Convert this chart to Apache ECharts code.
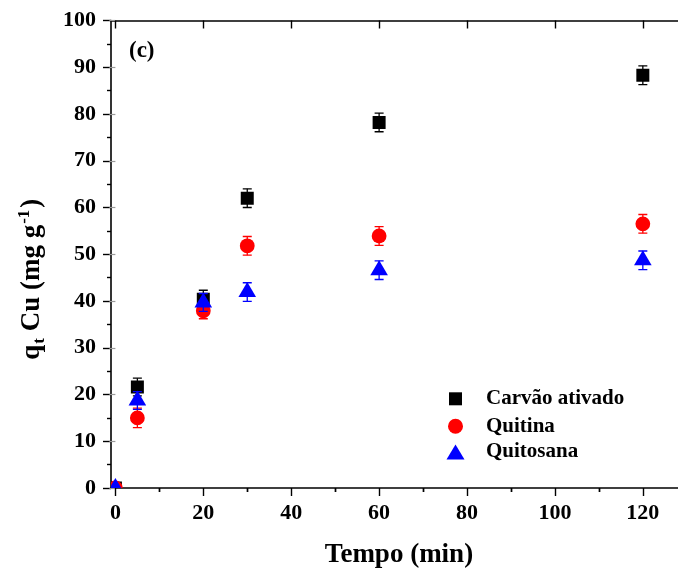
<!DOCTYPE html>
<html>
<head>
<meta charset="utf-8">
<script src="https://cdn.jsdelivr.net/npm/echarts@6/dist/echarts.min.js"></script>
<style>
  html, body { margin: 0; padding: 0; background: #fff; }
  #chart { width: 678px; height: 574px; }
</style>
</head>
<body>
<div id="chart"></div>
<script>
// Adsorption kinetics of Cu: uptake q_t vs contact time
const tempo = [0, 5, 20, 30, 60, 120];
const carvaoAtivado = [0, 21.6, 40.4, 62.0, 78.2, 88.3];
const carvaoErro    = [0, 1.9, 1.9, 2.0, 2.0, 2.0];
const quitina       = [0, 15.0, 37.9, 51.8, 53.9, 56.5];
const quitinaErro   = [0, 2.1, 1.7, 2.0, 2.0, 2.0];
const quitosana     = [0, 18.7, 39.7, 41.9, 46.6, 48.7];
const quitosanaErro = [0, 1.9, 1.9, 2.0, 2.0, 2.0];

const xMajorTicks = [0, 20, 40, 60, 80, 100, 120];
const xMinorTicks = [10, 30, 50, 70, 90, 110];

const FONT = '"Liberation Serif", "Times New Roman", serif';
const AXIS_COLOR = '#000';

function rows(vals, errs) {
  return tempo.map((t, i) => [t, vals[i], errs[i]]);
}

// Marker + vertical error bar for each point
function makeRenderer(shape, color) {
  return function (params, api) {
    const x = api.value(0), y = api.value(1), e = api.value(2);
    const p = api.coord([x, y]);
    const children = [];
    if (e > 0) {
      const top = api.coord([x, y + e]);
      const bot = api.coord([x, y - e]);
      const cap = 4.5;
      const ls = { stroke: color, lineWidth: 1.3 };
      children.push(
        { type: 'line', shape: { x1: p[0], y1: top[1], x2: p[0], y2: bot[1] }, style: ls },
        { type: 'line', shape: { x1: p[0] - cap, y1: top[1], x2: p[0] + cap, y2: top[1] }, style: ls },
        { type: 'line', shape: { x1: p[0] - cap, y1: bot[1], x2: p[0] + cap, y2: bot[1] }, style: ls }
      );
    }
    if (shape === 'rect') {
      const s = 13;
      children.push({ type: 'rect', shape: { x: p[0] - s / 2, y: p[1] - s / 2, width: s, height: s }, style: { fill: color } });
    } else if (shape === 'circle') {
      children.push({ type: 'circle', shape: { cx: p[0], cy: p[1], r: 7.4 }, style: { fill: color } });
    } else {
      const w = 17.6, h = 15;
      children.push({
        type: 'polygon',
        shape: { points: [[p[0], p[1] - h * 2 / 3], [p[0] + w / 2, p[1] + h / 3], [p[0] - w / 2, p[1] + h / 3]] },
        style: { fill: color }
      });
    }
    return { type: 'group', children };
  };
}

function legendFor(name, icon, w, h, rowY) {
  const lh = 22;
  return {
    data: [{ name, icon }],
    left: 455.5 - w / 2,
    top: rowY - Math.max(h, lh) / 2,
    padding: 0,
    itemWidth: w,
    itemHeight: h,
    itemStyle: { borderWidth: 0 },
    selectedMode: false,
    textStyle: {
      fontFamily: FONT, fontWeight: 'bold', fontSize: 21, color: '#000',
      lineHeight: lh, padding: [0, 0, 0, 30.5 - w / 2 - 5]
    }
  };
}

const xCommon = { type: 'value', min: -1, max: 128, splitLine: { show: false } };
const yCommon = { type: 'value', min: 0, max: 100, interval: 10, splitLine: { show: false } };

const option = {
  animation: false,
  backgroundColor: '#fff',
  title: {
    text: '(c)', left: 129, top: 40, padding: 0,
    textStyle: { fontFamily: FONT, fontWeight: 'bold', fontSize: 23, color: '#000' }
  },
  legend: [
    legendFor('Carvão ativado', 'rect', 13, 13, 398.8),
    legendFor('Quitina', 'circle', 15, 15, 426.2),
    legendFor('Quitosana', 'triangle', 18, 15, 452)
  ],
  grid: { left: 111, right: 0, top: 20.5, height: 469, containLabel: false },
  xAxis: [
    Object.assign({}, xCommon, {
      position: 'bottom',
      name: 'Tempo (min)', nameLocation: 'middle', nameGap: 54,
      nameTextStyle: { fontFamily: FONT, fontWeight: 'bold', fontSize: 27, color: '#000', padding: [0, 0, 0, 9] },
      axisLine: { show: true, onZero: false, lineStyle: { color: AXIS_COLOR, width: 1.6 } },
      axisTick: { show: true, inside: false, length: 8, customValues: xMajorTicks, lineStyle: { color: AXIS_COLOR, width: 1.4 } },
      axisLabel: { show: true, customValues: xMajorTicks, margin: 14, fontFamily: FONT, fontWeight: 'bold', fontSize: 22, color: '#000' }
    }),
    Object.assign({}, xCommon, {
      position: 'bottom',
      axisLine: { show: false },
      axisTick: { show: true, inside: false, length: 4, customValues: xMinorTicks, lineStyle: { color: AXIS_COLOR, width: 1.4 } },
      axisLabel: { show: false }
    }),
    Object.assign({}, xCommon, {
      position: 'top',
      axisLine: { show: true, onZero: false, lineStyle: { color: AXIS_COLOR, width: 1.6 } },
      axisTick: { show: true, inside: true, length: 8, customValues: xMajorTicks, lineStyle: { color: AXIS_COLOR, width: 1.4 } },
      axisLabel: { show: false }
    }),
    Object.assign({}, xCommon, {
      position: 'top',
      axisLine: { show: false },
      axisTick: { show: true, inside: true, length: 4, customValues: xMinorTicks, lineStyle: { color: AXIS_COLOR, width: 1.4 } },
      axisLabel: { show: false }
    })
  ],
  yAxis: [
    Object.assign({}, yCommon, {
      position: 'left',
      name: '{n|q}{sub|t}{n| Cu (mg g}{sup|-1}{n|)}',
      nameLocation: 'middle', nameGap: 62, nameRotate: 90,
      nameTextStyle: {
        fontFamily: FONT, fontWeight: 'bold', fontSize: 27, color: '#000',
        padding: [0, 50, 0, 0],
        rich: {
          n: { fontFamily: FONT, fontWeight: 'bold', fontSize: 27, color: '#000' },
          sub: { fontFamily: FONT, fontWeight: 'bold', fontSize: 17, color: '#000', padding: [14, 0, 0, 1] },
          sup: { fontFamily: FONT, fontWeight: 'bold', fontSize: 17, color: '#000', padding: [0, 2, 16, 1] }
        }
      },
      axisLine: { show: true, onZero: false, lineStyle: { color: AXIS_COLOR, width: 1.6 } },
      axisTick: { show: true, inside: false, length: 8, lineStyle: { color: AXIS_COLOR, width: 1.4 } },
      minorTick: { show: true, splitNumber: 2, length: 4, lineStyle: { color: AXIS_COLOR, width: 1.4 } },
      minorSplitLine: { show: false },
      axisLabel: { show: true, margin: 15, fontFamily: FONT, fontWeight: 'bold', fontSize: 22, color: '#000' }
    }),
    Object.assign({}, yCommon, {
      position: 'right',
      axisLine: { show: false },
      axisTick: { show: true, inside: true, length: 6, lineStyle: { color: '#999', width: 1.2 } },
      minorTick: { show: false },
      minorSplitLine: { show: false },
      axisLabel: { show: false }
    })
  ],
  series: [
    {
      name: 'Carvão ativado', type: 'custom', clip: true,
      itemStyle: { color: '#000000' },
      renderItem: makeRenderer('rect', '#000000'),
      encode: { x: 0, y: 1 },
      data: rows(carvaoAtivado, carvaoErro)
    },
    {
      name: 'Quitina', type: 'custom', clip: true,
      itemStyle: { color: '#ff0000' },
      renderItem: makeRenderer('circle', '#ff0000'),
      encode: { x: 0, y: 1 },
      data: rows(quitina, quitinaErro)
    },
    {
      name: 'Quitosana', type: 'custom', clip: true,
      itemStyle: { color: '#0000ff' },
      renderItem: makeRenderer('triangle', '#0000ff'),
      encode: { x: 0, y: 1 },
      data: rows(quitosana, quitosanaErro)
    }
  ]
};

const chart = echarts.init(document.getElementById('chart'), null, { renderer: 'canvas' });
chart.setOption(option);
</script>
</body>
</html>
